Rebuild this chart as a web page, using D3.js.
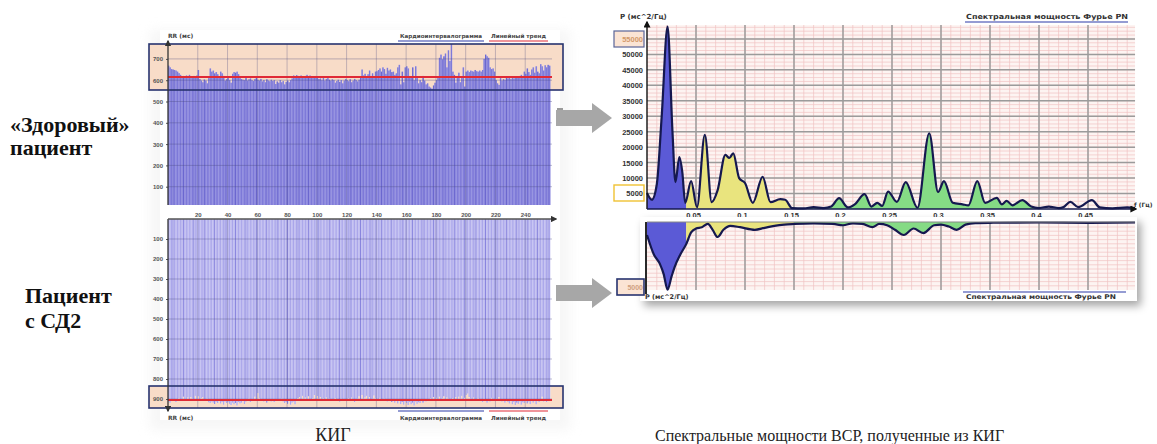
<!DOCTYPE html>
<html><head><meta charset="utf-8">
<script src="https://cdnjs.cloudflare.com/ajax/libs/d3/7.8.5/d3.min.js"></script>
<style>
body{margin:0;background:#fff;}
svg{display:block;font-family:"DejaVu Sans",sans-serif;}
</style></head><body>
<svg id="chart" width="1157" height="444"></svg>
<script>
// RR intervals (ms), one value per beat
const healthyRR = [
  668,660,652,650,648,645,640,633,625,618, 620,612,622,615,625,618,610,620,615,622,
  648,605,598,590,603,598,585,610,655,640, 645,632,638,628,615,640,632,620,598,605,
  612,600,588,630,638,635,640,628,610,605, 602,600,610,598,604,608,600,596,605,612,
  602,598,606,594,600,590,604,598,595,602, 596,600,582,594,588,600,590,596,580,592,
  598,590,600,608,622,618,624,620,615,622, 618,612,620,625,616,622,618,610,615,620,
  612,605,608,600,612,598,606,610,602,598, 604,600,588,596,602,592,600,585,598,606,
  600,595,604,590,598,606,600,594,602,612, 650,622,630,612,628,645,620,632,618,640,
  642,648,655,640,660,652,630,658,645,650, 638,640,625,632,660,672,580,640,590,660,
  665,655,620,612,660,600,665,612,585,600, 590,620,598,580,585,570,565,560,575,588,
  600,612,705,720,698,712,725,660,740,690, 770,640,625,588,620,635,590,615,660,570,
  640,645,638,645,642,640,648,642,640,645, 640,648,700,720,712,705,660,652,655,640,
  600,585,578,610,598,605,600,612,608,615, 605,612,608,610,615,610,620,625,612,640,
  630,655,638,625,650,660,635,665,640,632, 675,665,645,670,660,672,668
];
const diabeticRR = [
  912,918,905,900,908,915,902,896,910,904, 888,900,906,892,902,890,898,905,884,900,
  886,902,895,890,904,910,898,916,920,912, 918,925,914,920,910,922,915,928,912,920,
  916,924,930,918,926,920,932,915,922,918, 910,925,912,905,898,915,902,906,888,900,
  870,896,902,908,912,905,918,910,902,912, 908,915,904,910,900,906,898,912,920,915,
  924,910,928,918,912,926,905,896,890,900, 884,898,892,904,886,900,910,895,880,902,
  885,898,890,905,896,902,892,910,898,904, 900,908,895,906,902,912,898,905,900,910,
  904,896,908,892,902,915,905,898,886,900, 880,898,892,884,900,890,904,898,882,896,
  900,908,894,902,910,898,905,912,900,906, 915,902,918,910,922,908,925,915,928,912,
  920,930,915,926,918,932,912,924,916,920, 910,918,904,912,900,908,896,905,890,902,
  894,900,888,904,896,886,902,892,898,906, 900,895,904,890,902,888,898,884,900,894,
  880,872,890,898,905,892,900,910,896,908, 902,914,898,906,918,900,912,894,904,908,
  898,910,890,904,912,900,918,906,914,922, 910,926,915,930,918,924,912,928,916,920,
  908,922,912,925,905,918,910,926,900,915, 906,888,912,900,915,905,910
];
const healthyTrend = 615;
const diabeticTrend = 905;
const rrTicksHealthy = [100, 200, 300, 400, 500, 600, 700];
const rrTicksDiabetic = [100, 200, 300, 400, 500, 600, 700, 800, 900];
const beatTicks = [20, 40, 60, 80, 100, 120, 140, 160, 180, 200, 220, 240];

// Fourier spectra (Hz, ms^2/Hz)
const healthyFreq = [0,0.005,0.01,0.015,0.021,0.026,0.029,0.033,0.036,0.039,0.045,0.051,0.059,0.066,0.072,
  0.08,0.084,0.088,0.094,0.1,0.108,0.118,0.126,0.136,0.141,0.148,0.16,0.17,0.18,0.188,0.196,0.205,0.212,
  0.222,0.229,0.235,0.24,0.246,0.255,0.264,0.276,0.288,0.297,0.303,0.312,0.322,0.328,0.337,0.345,0.357,
  0.362,0.367,0.373,0.383,0.392,0.4,0.41,0.42,0.425,0.432,0.44,0.454,0.462,0.475,0.49,0.498];
const healthyPower = [5200,3000,8000,30000,59000,25000,8700,16800,12000,2000,9000,600,24000,2200,6000,
  17500,16500,18000,10000,8400,2000,10400,2200,3200,3000,300,200,600,300,800,3500,500,1500,
  4800,800,2000,1000,5600,2300,8700,400,24500,5500,9000,2000,1500,1200,9000,2000,3600,
  1500,2600,1200,2900,800,300,800,300,600,2300,600,2900,500,200,500,300];
const diabeticFreq = [0,0.007,0.013,0.017,0.021,0.025,0.028,0.034,0.04,0.045,0.05,0.056,0.062,0.067,0.072,
  0.078,0.085,0.095,0.11,0.12,0.13,0.14,0.15,0.17,0.19,0.2,0.21,0.22,0.23,0.237,0.245,0.253,0.262,
  0.272,0.282,0.293,0.3,0.308,0.316,0.325,0.335,0.35,0.4,0.45,0.498];
const diabeticPower = [1000,2500,3200,4000,5200,4200,3500,2500,1700,800,500,400,150,600,1150,
  600,300,400,600,450,300,200,150,100,150,250,100,150,400,150,250,600,1000,
  500,850,250,200,350,600,200,80,60,40,60,40];
const bandEdges = [0, 0.04, 0.15, 0.4];
const freqTicks = [0.05, 0.1, 0.15, 0.2, 0.25, 0.3, 0.35, 0.4, 0.45];
const powerTicks = [5000,10000,15000,20000,25000,30000,35000,40000,45000,50000,55000];

const bandColors = ["#5b5ad6", "#e9e47e", "#85db85"];

const svg = d3.select("#chart");
const defs = svg.append("defs");

function arrowMarker(id, color) {
  defs.append("marker")
    .attr("id", id).attr("viewBox", "0 0 10 10")
    .attr("refX", 8).attr("refY", 5)
    .attr("markerWidth", 5).attr("markerHeight", 5)
    .attr("orient", "auto-start-reverse")
    .append("path").attr("d", "M0,0L10,5L0,10z").attr("fill", color);
}
arrowMarker("arrL", "#333");
arrowMarker("arrR", "#111");

const shadow = defs.append("filter").attr("id", "shadow")
  .attr("x", "-5%").attr("y", "-10%").attr("width", "115%").attr("height", "140%");
shadow.append("feDropShadow").attr("dx", 4).attr("dy", 5).attr("stdDeviation", 4)
  .attr("flood-color", "#000").attr("flood-opacity", 0.35);

const soft = defs.append("filter").attr("id", "soft")
  .attr("x", "-10%").attr("y", "-10%").attr("width", "120%").attr("height", "120%");
soft.append("feGaussianBlur").attr("stdDeviation", 6);

// ---------------- left: cardiointervalograms ----------------
const xBeat = d3.scaleLinear().domain([0, 258]).range([168, 552]);
const yHealthy = d3.scaleLinear().domain([0, 770]).range([208, 44]);
const yDiab = d3.scaleLinear().domain([0, 945]).range([219, 408]);
const bw = xBeat(1) - xBeat(0);

// soft halo behind the screenshots
svg.append("rect").attr("x", 150).attr("y", 30).attr("width", 420).attr("height", 400)
  .attr("fill", "#eeeeee").attr("opacity", 0.5).attr("filter", "url(#soft)");

function kig(g, data, y, trend, ticks, box, opts) {
  const [y0, y1] = y.range();
  const top = Math.min(y0, y1), bot = Math.max(y0, y1);
  g.append("rect").attr("x", 160).attr("y", top - 14).attr("width", 400).attr("height", bot - top + 26)
    .attr("fill", "#fff");
  // highlighted range
  g.append("rect").attr("x", 149).attr("y", box[0]).attr("width", 414).attr("height", box[1] - box[0])
    .attr("fill", "#f8dcc8");

  // light stripes between bars
  g.selectAll(".gap").data(data).join("rect")
    .attr("x", (d, i) => xBeat(i))
    .attr("width", bw)
    .attr("y", d => Math.min(y(0), y(d)))
    .attr("height", d => Math.abs(y(d) - y(0)))
    .attr("fill", opts.gap);
  g.selectAll(".bar").data(data).join("rect")
    .attr("x", (d, i) => xBeat(i))
    .attr("width", bw * opts.fill)
    .attr("y", d => Math.min(y(0), y(d)))
    .attr("height", d => Math.abs(y(d) - y(0)))
    .attr("fill", (d, i) => i % 7 === 3 ? opts.dark : opts.bar);

  // grid
  g.selectAll(".hg").data(ticks).join("line")
    .attr("x1", xBeat(0)).attr("x2", xBeat(258))
    .attr("y1", d => y(d)).attr("y2", d => y(d))
    .attr("stroke", "#4a4a80").attr("stroke-opacity", 0.45).attr("stroke-width", 0.8);
  g.selectAll(".vg").data(beatTicks).join("line")
    .attr("x1", d => xBeat(d)).attr("x2", d => xBeat(d))
    .attr("y1", top).attr("y2", bot)
    .attr("stroke", "#4a4a80").attr("stroke-opacity", 0.4).attr("stroke-width", 0.8);

  // linear trend
  g.append("line").attr("x1", xBeat(0)).attr("x2", xBeat(258))
    .attr("y1", y(trend)).attr("y2", y(trend))
    .attr("stroke", "#e02a36").attr("stroke-width", 2);

  g.append("rect").attr("x", 149).attr("y", box[0]).attr("width", 414).attr("height", box[1] - box[0])
    .attr("fill", "none").attr("stroke", "#27336f").attr("stroke-width", 1.6);

  // axes
  const ax = g.append("g").attr("transform", `translate(${xBeat(0)},0)`)
    .call(d3.axisLeft(y).tickValues(ticks).tickSize(2).tickPadding(3));
  ax.select(".domain").remove();
  ax.selectAll("text").attr("font-size", 6).attr("font-weight", "bold").attr("fill", "#555");
  ax.selectAll("line").attr("stroke", "#555");

  g.append("line").attr("x1", xBeat(0)).attr("x2", xBeat(0))
    .attr("y1", y(0)).attr("y2", opts.yEnd)
    .attr("stroke", "#333").attr("stroke-width", 1.3).attr("marker-end", "url(#arrL)");
  g.append("line").attr("x1", xBeat(0)).attr("x2", 556)
    .attr("y1", y(0)).attr("y2", y(0))
    .attr("stroke", "#555").attr("stroke-width", 1.3).attr("marker-end", "url(#arrL)");

  // scroll thumb
  g.append("rect").attr("x", 557).attr("y", opts.thumb).attr("width", 6).attr("height", 12)
    .attr("fill", "#9a9a9a");

  // header / footer
  g.append("text").attr("x", 168).attr("y", opts.label).attr("font-size", 6).attr("font-weight", "bold")
    .attr("fill", "#444").text("RR (мс)");
  g.append("line").attr("x1", 398).attr("x2", 484).attr("y1", opts.legLine).attr("y2", opts.legLine)
    .attr("stroke", "#2c3aa8").attr("stroke-width", 1.2);
  g.append("line").attr("x1", 489).attr("x2", 548).attr("y1", opts.legLine).attr("y2", opts.legLine)
    .attr("stroke", "#e02a36").attr("stroke-width", 1.2);
  g.append("text").attr("x", 400).attr("y", opts.legText).attr("font-size", 5.5).attr("font-weight", "bold")
    .attr("fill", "#444").attr("textLength", 82).attr("lengthAdjust", "spacingAndGlyphs")
    .text("Кардиоинтервалограмма");
  g.append("text").attr("x", 491).attr("y", opts.legText).attr("font-size", 5.5).attr("font-weight", "bold")
    .attr("fill", "#444").attr("textLength", 55).attr("lengthAdjust", "spacingAndGlyphs")
    .text("Линейный тренд");
}

kig(svg.append("g"), healthyRR, yHealthy, healthyTrend, rrTicksHealthy, [44, 90],
  {bar: "#7d79d8", dark: "#6b67cf", gap: "#aeabea", fill: 0.8, yEnd: 41, thumb: 108,
   label: 38, legLine: 41, legText: 38});
kig(svg.append("g"), diabeticRR, yDiab, diabeticTrend, rrTicksDiabetic, [386, 408],
  {bar: "#a9a5ea", dark: "#8783dd", gap: "#d8d6f6", fill: 0.65, yEnd: 411, thumb: 288,
   label: 420, legLine: 411, legText: 420});

// beat numbers between the two charts
const bx = svg.append("g").attr("transform", "translate(0,208)")
  .call(d3.axisBottom(xBeat).tickValues(beatTicks).tickSize(0).tickPadding(5));
bx.select(".domain").remove();
bx.selectAll("text").attr("font-size", 6).attr("font-weight", "bold").attr("fill", "#555");

// ---------------- gray arrows ----------------
function bigArrow(cy) {
  const x0 = 556, x1 = 592, x2 = 612;
  svg.append("path")
    .attr("d", `M${x0},${cy - 8}L${x1},${cy - 8}L${x1},${cy - 15}L${x2},${cy}L${x1},${cy + 15}L${x1},${cy + 8}L${x0},${cy + 8}Z`)
    .attr("fill", "#a7a7a7");
}
bigArrow(118);
bigArrow(293);

// ---------------- right: spectra ----------------
const xF = d3.scaleLinear().domain([0, 0.5]).range([647, 1137]);
const yP = d3.scaleLinear().domain([0, 59500]).range([209, 25]);
const yP2 = d3.scaleLinear().domain([0, 5300]).range([222, 291]);
const fEnd = 0.498;

function bandClips(prefix, y0, y1) {
  bandEdges.slice(0, -1).forEach((e, i) => {
    defs.append("clipPath").attr("id", `${prefix}${i}`)
      .append("rect").attr("x", xF(e)).attr("width", xF(bandEdges[i + 1]) - xF(e))
      .attr("y", y0).attr("height", y1 - y0);
  });
}

function grid(g, yTop, yBot, hStep, majorH) {
  g.append("rect").attr("x", xF(0)).attr("y", yTop).attr("width", xF(fEnd) - xF(0))
    .attr("height", yBot - yTop).attr("fill", "#fdf4f2");
  const minorF = d3.range(1, 50).map(k => k / 100).filter(f => f < fEnd);
  g.selectAll(".mv").data(minorF).join("line")
    .attr("x1", d => xF(d)).attr("x2", d => xF(d)).attr("y1", yTop).attr("y2", yBot)
    .attr("stroke", "#f1c3c3").attr("stroke-width", 0.7);
  g.selectAll(".mh").data(d3.range(yBot - hStep, yTop, -hStep)).join("line")
    .attr("x1", xF(0)).attr("x2", xF(fEnd)).attr("y1", d => d).attr("y2", d => d)
    .attr("stroke", "#f1c3c3").attr("stroke-width", 0.7);
  g.selectAll(".Mv").data(freqTicks).join("line")
    .attr("x1", d => xF(d)).attr("x2", d => xF(d)).attr("y1", yTop).attr("y2", yBot)
    .attr("stroke", "#9b9b9b").attr("stroke-width", 1.5);
  g.selectAll(".Mh").data(majorH).join("line")
    .attr("x1", xF(0)).attr("x2", xF(fEnd)).attr("y1", d => d).attr("y2", d => d)
    .attr("stroke", "#9b9b9b").attr("stroke-width", 1.5);
}

function spectrum(g, freq, power, y, prefix) {
  const pts = freq.map((f, i) => [f, power[i]]);
  const area = d3.area().curve(d3.curveMonotoneX)
    .x(d => xF(d[0])).y0(y(0)).y1(d => y(d[1]));
  bandColors.forEach((c, i) => {
    g.append("path").datum(pts).attr("d", area).attr("fill", c)
      .attr("clip-path", `url(#${prefix}${i})`);
  });
  g.append("path").datum(pts)
    .attr("d", d3.line().curve(d3.curveMonotoneX).x(d => xF(d[0])).y(d => y(d[1])))
    .attr("fill", "none").attr("stroke", "#15184f").attr("stroke-width", 2.2);
}

// top spectrum (healthy)
const gT = svg.append("g");
grid(gT, 25, 209, (yP(0) - yP(1250)), powerTicks.map(yP));
bandClips("clipT", 20, 210);
spectrum(gT, healthyFreq, healthyPower, yP, "clipT");

gT.append("line").attr("x1", xF(0)).attr("x2", xF(0)).attr("y1", yP(0)).attr("y2", 22)
  .attr("stroke", "#111").attr("stroke-width", 1.4).attr("marker-end", "url(#arrR)");
gT.append("line").attr("x1", xF(0)).attr("x2", 1136).attr("y1", yP(0)).attr("y2", yP(0))
  .attr("stroke", "#15184f").attr("stroke-width", 1.4).attr("marker-end", "url(#arrR)");

// highlighted labels
gT.append("rect").attr("x", 614).attr("y", 31).attr("width", 30).attr("height", 16)
  .attr("fill", "#fbe4d4").attr("stroke", "#5a6598").attr("stroke-width", 1.2);
gT.append("rect").attr("x", 614).attr("y", 185).attr("width", 30).attr("height", 16)
  .attr("fill", "#fff").attr("stroke", "#f0c234").attr("stroke-width", 1.4);

const ay = gT.append("g").attr("transform", `translate(${xF(0)},0)`)
  .call(d3.axisLeft(yP).tickValues(powerTicks).tickFormat(d3.format("d")).tickSize(0).tickPadding(4));
ay.select(".domain").remove();
ay.selectAll("text").attr("font-size", 7.5).attr("font-weight", "bold")
  .attr("fill", d => d === 55000 ? "#d49a6a" : "#333");
const axf = gT.append("g").attr("transform", `translate(0,${yP(0)})`)
  .call(d3.axisBottom(xF).tickValues(freqTicks).tickFormat(d => String(d)).tickSize(0).tickPadding(4));
axf.select(".domain").remove();
axf.selectAll("text").attr("font-size", 7.5).attr("font-weight", "bold").attr("fill", "#333")
  .attr("dx", -3);

gT.append("text").attr("x", 1134).attr("y", 207).attr("font-size", 6).attr("font-weight", "bold")
  .attr("fill", "#333").text("f (Гц)");
gT.append("text").attr("x", 620).attr("y", 19).attr("font-size", 7).attr("font-weight", "bold")
  .attr("fill", "#333").text("P (мс^2/Гц)");
gT.append("text").attr("x", 966).attr("y", 19).attr("font-size", 7).attr("font-weight", "bold")
  .attr("fill", "#333").attr("textLength", 162).attr("lengthAdjust", "spacingAndGlyphs")
  .text("Спектральная мощность Фурье PN");
gT.append("line").attr("x1", 965).attr("x2", 1128).attr("y1", 22).attr("y2", 22)
  .attr("stroke", "#2c3aa8").attr("stroke-width", 1.2);

// bottom spectrum (diabetic), drawn downward
const gB = svg.append("g");
gB.append("rect").attr("x", 640).attr("y", 217).attr("width", 497).attr("height", 84)
  .attr("fill", "#fff").attr("filter", "url(#shadow)");
grid(gB, 222, 290, 4.2, []);
bandClips("clipB", 221, 292);
spectrum(gB, diabeticFreq, diabeticPower, yP2, "clipB");
gB.append("line").attr("x1", xF(0)).attr("x2", xF(fEnd)).attr("y1", 222).attr("y2", 222)
  .attr("stroke", "#888").attr("stroke-width", 1);
gB.append("line").attr("x1", xF(0) - 1).attr("x2", xF(0) - 1).attr("y1", 222).attr("y2", 294)
  .attr("stroke", "#111").attr("stroke-width", 1.8);

gB.append("rect").attr("x", 617).attr("y", 279).attr("width", 27).attr("height", 16)
  .attr("fill", "#fbe4d4").attr("stroke", "#27336f").attr("stroke-width", 1.6);
const ay2 = gB.append("g").attr("transform", `translate(${xF(0)},0)`)
  .call(d3.axisLeft(yP2).tickValues([5000]).tickFormat(d3.format("d")).tickSize(0).tickPadding(4));
ay2.select(".domain").remove();
ay2.selectAll("text").attr("font-size", 7).attr("font-weight", "bold").attr("fill", "#d0a080");

gB.append("text").attr("x", 645).attr("y", 299).attr("font-size", 6.5).attr("font-weight", "bold")
  .attr("fill", "#333").text("P (мс^2/Гц)");
gB.append("line").attr("x1", 963).attr("x2", 1126).attr("y1", 292).attr("y2", 292)
  .attr("stroke", "#2c3aa8").attr("stroke-width", 1.2);
gB.append("text").attr("x", 966).attr("y", 299).attr("font-size", 6.5).attr("font-weight", "bold")
  .attr("fill", "#333").attr("textLength", 150).attr("lengthAdjust", "spacingAndGlyphs")
  .text("Спектральная мощность Фурье PN");

// ---------------- captions ----------------
const serif = "'Liberation Serif','Times New Roman',serif";
[["«Здоровый»", 10, 132], ["пациент", 10, 155], ["Пациент", 25, 303], ["с СД2", 25, 328]]
  .forEach(([t, x, y]) => {
    svg.append("text").attr("x", x).attr("y", y).attr("font-family", serif)
      .attr("font-size", 22).attr("font-weight", "bold").attr("fill", "#111").text(t);
  });
svg.append("text").attr("x", 333).attr("y", 441).attr("text-anchor", "middle")
  .attr("font-family", serif).attr("font-size", 18).attr("fill", "#222").text("КИГ");
svg.append("text").attr("x", 655).attr("y", 441)
  .attr("font-family", serif).attr("font-size", 16).attr("fill", "#222")
  .text("Спектральные мощности ВСР, полученные из КИГ");
</script>
</body></html>
